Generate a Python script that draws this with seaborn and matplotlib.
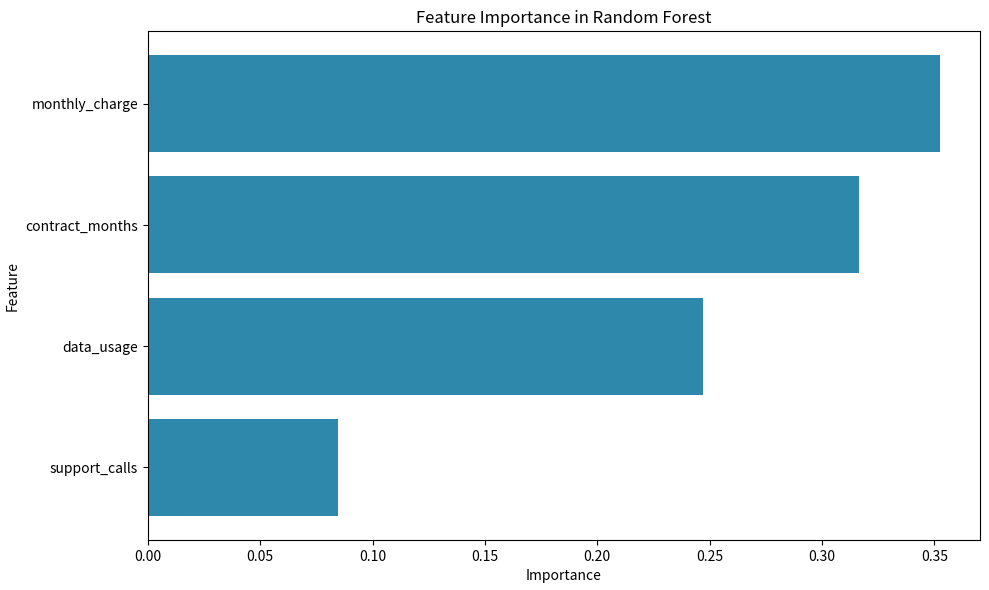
import pandas as pd
import matplotlib.pyplot as plt
import seaborn as sns

# Datos
features = ['monthly_charge', 'contract_months', 'data_usage', 'support_calls']
importance = [0.3527, 0.3166, 0.2471, 0.0846]

df = pd.DataFrame({'Feature': features, 'Importance': importance})

plt.rcParams['font.family'] = ['Noto Sans CJK JP', 'DejaVu Sans']

fig, ax = plt.subplots(figsize=(9.89, 5.9), dpi=100)
sns.barplot(data=df, x='Importance', y='Feature', color='#2e88ac', saturation=1, ax=ax)
ax.set_ylim(len(features) - 0.4, -0.6)
ax.set_title('Feature Importance in Random Forest')
ax.set_xlabel('Importance')
ax.set_ylabel('Feature')

fig.subplots_adjust(left=0.1496, right=0.9909, top=0.9475, bottom=0.0847)
plt.savefig('out.png', dpi=100)
